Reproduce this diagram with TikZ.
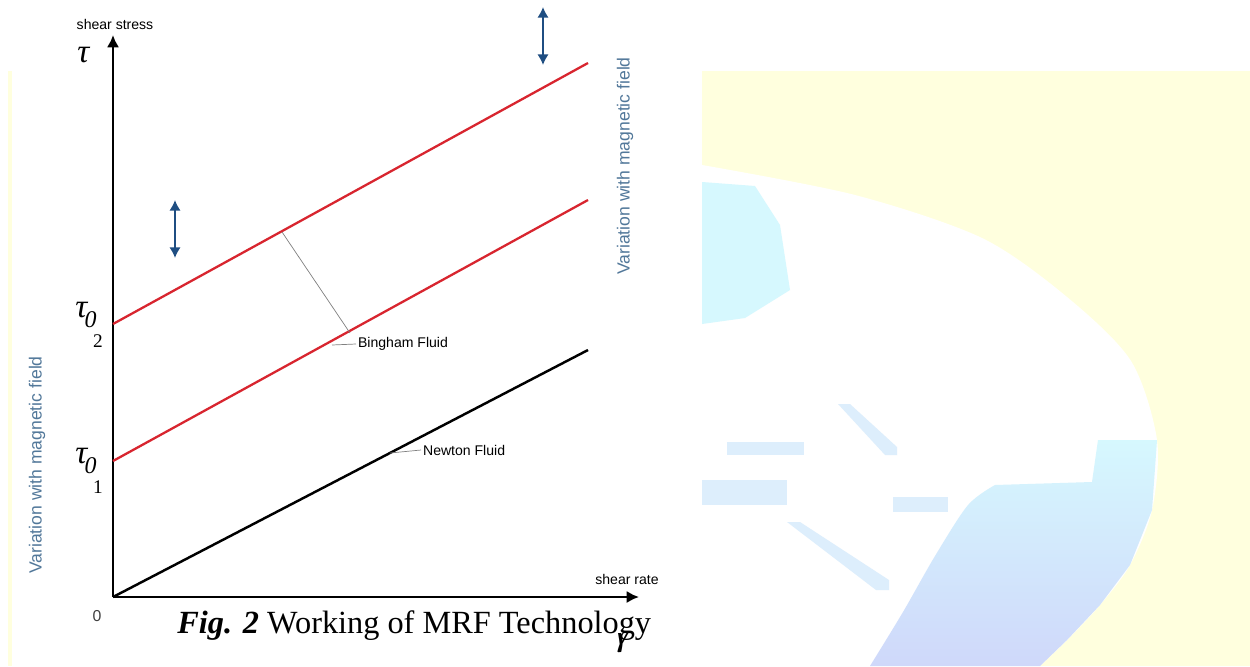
\documentclass[tikz,border=0pt]{standalone}
\usepackage{fontspec}
\setmainfont{Liberation Serif}
\setsansfont{Liberation Sans}
\usepackage{xcolor}
\usetikzlibrary{arrows.meta}

\definecolor{binghamred}{HTML}{D8252F}
\definecolor{fieldblue}{HTML}{1F4E82}
\definecolor{fieldtext}{HTML}{52789A}
\definecolor{paleyellow}{HTML}{FFFFDE}
\definecolor{palecyan}{HTML}{D6F8FE}
\definecolor{palelav}{HTML}{CFD8FA}
\definecolor{streak}{HTML}{DDEEFC}

\newcommand{\tauzero}[1]{{\fontsize{19}{19}\selectfont\itshape τ}\kern-1.5pt\raisebox{-6.2pt}{\fontsize{13.6}{14}\selectfont\itshape 0}\kern-2pt\raisebox{-17.6pt}{\fontsize{11}{11}\selectfont #1}}

\begin{document}
\begin{tikzpicture}[x=0.02cm,y=-0.02cm,
  axis/.style={line width=1.6pt,-{Latex[length=7pt,width=7pt]}},
  bingham/.style={line width=1.3pt,color=binghamred},
  newton/.style={line width=1.4pt},
  leader/.style={line width=0.4pt,color=gray},
  fieldarrow/.style={line width=1.2pt,color=fieldblue,{Latex[length=6pt,width=6.5pt]}-{Latex[length=6pt,width=6.5pt]}},
  small/.style={font=\sffamily\fontsize{8}{8}\selectfont,inner sep=1pt},
  fieldlabel/.style={font=\sffamily\fontsize{10}{10}\selectfont,color=fieldtext,rotate=90,inner sep=0pt}]
\useasboundingbox (0,0) rectangle (1250,666);

% background
\fill[paleyellow] (8,71) rectangle (1250,666);
\fill[white] plot[smooth] coordinates {(702,165) (855,195) (982,238) (1067,297) (1131,361) (1157,440) (1152,510) (1130,565) (1100,605) (1067,640) (1040,666)} -- (702,666) -- cycle;
\fill[palecyan] (702,182) -- (755,186) -- (780,225) -- (790,290) -- (745,318) -- (702,324) -- cycle;
\shade[top color=palecyan,bottom color=palelav] plot[smooth] coordinates {(870,666) (903,612) (935,556) (968,505) (995,485)} -- (1092,482) -- (1098,440) -- (1157,440) -- (1152,510) -- (1130,565) -- (1100,605) -- (1067,640) -- (1040,666) -- cycle;
\fill[streak] (727,442) rectangle (804,455);
\fill[streak] (702,480) rectangle (787,505);
\fill[streak] (893,497) rectangle (948,512);
\fill[streak] (838,404) -- (850,404) -- (897,447) -- (897,455) -- (885,455) -- cycle;
\fill[streak] (787,522) -- (800,522) -- (889,580) -- (889,590) -- (876,590) -- cycle;
\fill[white] (12,0) rectangle (702,666);

% axes
\coordinate (O) at (113,597);
\coordinate (ytop) at (113,35);
\coordinate (xend) at (639,597);
\draw[axis] (O) -- (ytop);
\draw[axis] (O) -- (xend);

% fluids
\coordinate (newtonend) at (588,350);
\coordinate (low0) at (113,461);
\coordinate (low1) at (588,200);
\coordinate (up0) at (113,324);
\coordinate (up1) at (588,63);
\draw[newton] (O) -- (newtonend);
\draw[bingham] (low0) -- (low1);
\draw[bingham] (up0) -- (up1);

\node[small,anchor=west] (binghamlbl) at (356,344) {Bingham Fluid};
\node[small,anchor=west] (newtonlbl) at (421,450) {Newton Fluid};
\coordinate (bup) at (282,232);
\coordinate (blow) at (350,333);
\coordinate (btick) at (332,345);
\coordinate (ntick) at (390,453);
\draw[leader] (bup) -- (blow);
\draw[leader] (btick) -- (binghamlbl.west);
\draw[leader] (ntick) -- (newtonlbl.west);

% labels
\node[small] (stresslbl) at (115,24) {shear stress};
\node[small] (ratelbl) at (627,579) {shear rate};
\node[font=\sffamily\fontsize{9}{9}\selectfont,text=black!75] (zero) at (97,616) {0};
\node[anchor=base west,inner sep=0pt,font=\fontsize{19}{19}\selectfont\itshape] (tau) at (77,62) {τ};
\node[anchor=base west,inner sep=0pt] (tau2) at (75,317) {\tauzero{2}};
\node[anchor=base west,inner sep=0pt] (tau1) at (75,463) {\tauzero{1}};

% magnetic field
\coordinate (fa1) at (175,200);
\coordinate (fa2) at (175,258);
\coordinate (fb1) at (543,7);
\coordinate (fb2) at (543,65);
\draw[fieldarrow] (fa1) -- (fa2);
\draw[fieldarrow] (fb1) -- (fb2);
\node[fieldlabel] (fieldright) at (625,166) {Variation with magnetic field};
\node[fieldlabel] (fieldleft) at (37,465) {Variation with magnetic field};

% caption
\node[anchor=base,inner sep=0pt,font=\fontsize{22}{22}\selectfont\itshape] (gamma) at (623,644) {γ};
\node[anchor=base west,inner sep=0pt,fill=white,text depth=0pt,font=\fontsize{18.4}{19}\selectfont] (caption) at (177,633) {\textbf{\textit{Fig. 2}} Working of MRF Technology};
\end{tikzpicture}
\end{document}
